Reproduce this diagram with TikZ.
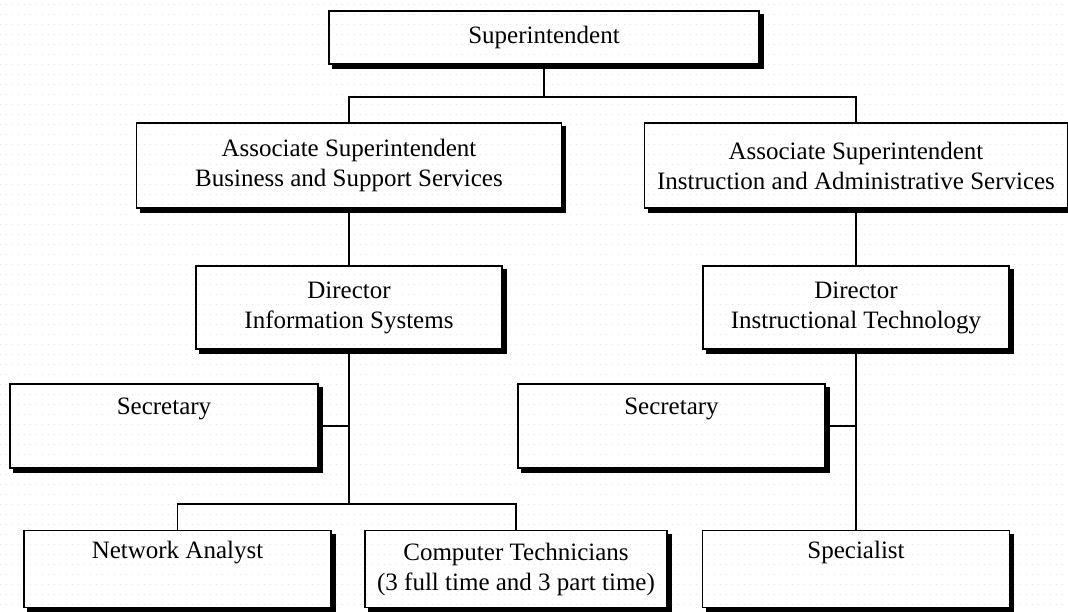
\documentclass[tikz,border=0pt]{standalone}
\usepackage{fontspec}
\setmainfont{Liberation Serif}
\usetikzlibrary{calc}
\definecolor{dotcol}{RGB}{236,218,236}
\begin{document}
\begin{tikzpicture}[x=1pt,y=-1pt,
  box/.style={draw, line width=1.6pt, inner sep=0pt, align=center,
    font=\fontsize{25}{30}\selectfont},
  link/.style={line width=1.6pt}]
\useasboundingbox (0,0) rectangle (1068,611);
% faint dotted backdrop
\foreach \y in {4,14,...,604}
  \draw[dotcol, line width=0.9pt, dash pattern=on 0.9pt off 5.1pt] (0,\y) -- (1068,\y);
% drop shadow on the right and bottom sides of a box
\newcommand\dropshadow[1]{%
  \fill ($(#1.north east)+(0,4)$) rectangle ($(#1.south east)+(4,4)$);
  \fill ($(#1.south west)+(4,0)$) rectangle ($(#1.south east)+(4,4)$);}

% boxes
\node[box, minimum width=430pt, minimum height=53pt] (sup) at (544,37.5) {Superintendent};
\node[box, minimum width=425pt, minimum height=85pt] (a1) at (349,165.5)
  {Associate Superintendent\\Business and Support Services};
\node[box, minimum width=423pt, minimum height=85pt] (a2) at (856,165.5)
  {Associate Superintendent\\Instruction and Administrative Services};
\node[box, minimum width=306pt, minimum height=83pt] (d1) at (349,307.5)
  {Director\\Information Systems};
\node[box, minimum width=306pt, minimum height=83pt] (d2) at (856,307.5)
  {Director\\Instructional Technology};
\node[box, minimum width=308pt, minimum height=84pt] (s1) at (164,426) {Secretary\\\strut};
\node[box, minimum width=307pt, minimum height=84pt] (s2) at (671.5,426) {Secretary\\\strut};
\node[box, minimum width=307pt, minimum height=77pt] (n1) at (177.5,569) {Network Analyst\\\strut};
\node[box, minimum width=302pt, minimum height=77pt] (c1) at (516,569)
  {Computer Technicians\\(3 full time and 3 part time)};
\node[box, minimum width=307pt, minimum height=77pt] (sp) at (856,569) {Specialist\\\strut};

\foreach \n in {sup,a1,a2,d1,d2,s1,s2,n1,c1,sp} {\dropshadow{\n}}

% connectors
\draw[link] (sup.south) -- ++(0,32) coordinate (j0);
\draw[link] (a1.north) |- (j0) -| (a2.north);
\draw[link] (a1.south) -- (d1.north);
\draw[link] (d1.south) -- ++(0,154) coordinate (j1);
\draw[link] (n1.north) |- (j1) -| (c1.north);
\draw[link] ($(s1.east)+(4,0)$) -- (s1.east -| d1.south);
\draw[link] (a2.south) -- (d2.north);
\draw[link] (d2.south) -- (sp.north);
\draw[link] ($(s2.east)+(4,0)$) -- (s2.east -| d2.south);
\end{tikzpicture}
\end{document}
